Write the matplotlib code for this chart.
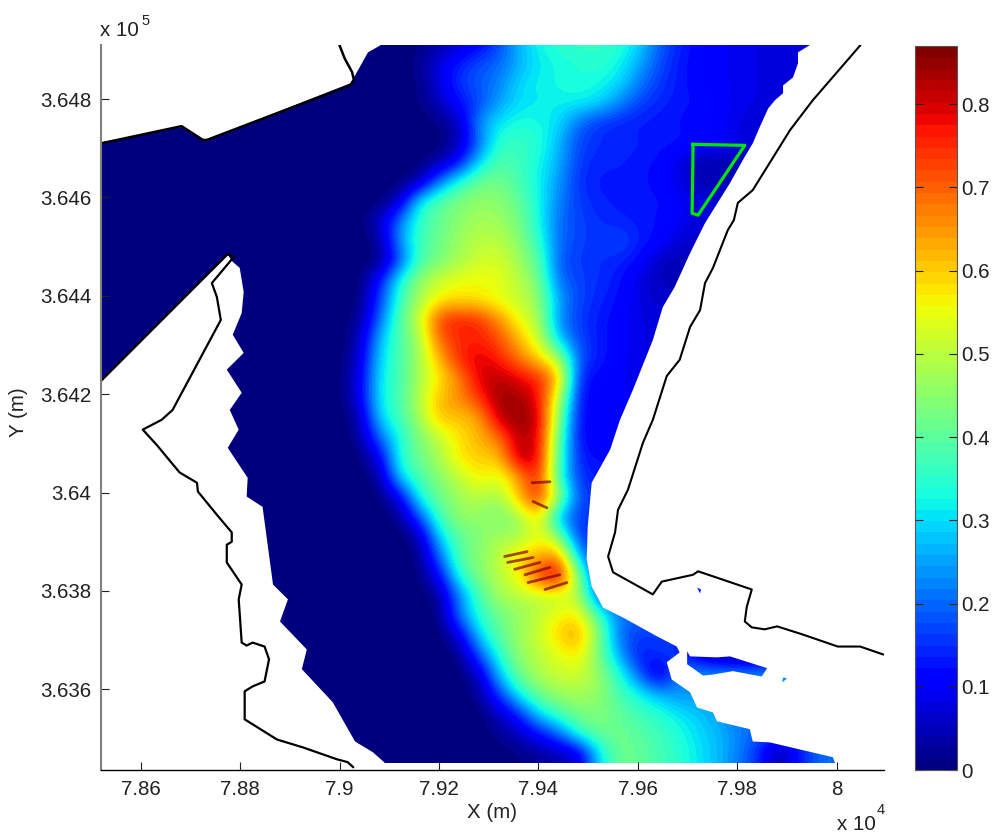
import numpy as np
import matplotlib
matplotlib.use("Agg")
import matplotlib.pyplot as plt
from matplotlib.path import Path
from matplotlib.patches import PathPatch

plt.rcParams['font.family'] = ['Liberation Sans', 'DejaVu Sans']
plt.rcParams['font.size'] = 14.8

# field, hundredths, one row every 40 m from the top
# the columns start at x = 79040, everything west of that is zero
grid_x0 = 79040
grid_y0 = 364910
grid_step = 40
field = [
    [0, 0, 0, 1, 3, 6,10,17,27,33,35,36,36,35,30,20,14,11,10, 9, 8, 8, 7, 7, 7, 7, 7],
    [0, 0, 0, 2, 8,14,18,20,26,31,33,34,35,33,26,18,13,11,10, 9, 8, 8, 7, 7, 7, 7, 7],
    [0, 0, 0, 1, 8,16,19,22,30,32,33,34,33,30,22,16,13,11,10, 9, 8, 8, 7, 7, 7, 7, 7],
    [0, 0, 0, 1, 5,12,17,25,30,31,32,32,30,23,17,14,13,12,11, 9, 8, 7, 7, 7, 7, 7, 7],
    [0, 0, 0, 0, 1, 5,24,31,34,33,30,20,15,14,13,13,12,11,10, 8, 7, 7, 7, 7, 7, 7, 7],
    [0, 0, 0, 0, 0, 4,20,36,36,35,27,17,15,14,14,13,13,12,12, 8, 7, 7, 7, 7, 7, 7, 7],
    [0, 0, 0, 0, 3,11,30,39,37,33,26,16,14,14,13,12, 8, 4, 3, 5, 6, 6, 6, 6, 6, 6, 6],
    [0, 0, 0, 3,22,35,42,43,38,32,24,15,13,13,13,11, 9, 4, 5, 6, 6, 6, 6, 6, 6, 6, 6],
    [0, 0, 5,33,40,44,46,45,41,33,22,16,14,13,13,13,10, 8, 7, 7, 7, 7, 7, 7, 7, 7, 7],
    [0, 6,22,36,41,45,48,47,43,33,20,17,15,14,13,12,10, 7, 7, 7, 7, 7, 7, 7, 7, 7, 7],
    [0, 2,24,37,42,47,50,50,45,36,20,17,15,18,14,12, 7, 6, 6, 6, 6, 6, 6, 6, 6, 6, 6],
    [0, 0,17,38,43,48,52,53,47,40,18,16,15,14,12, 5, 4, 6, 6, 6, 6, 6, 6, 6, 6, 6, 6],
    [0,12,34,46,52,55,56,55,50,43,20,17,15,13, 8, 5, 5, 5, 5, 5, 5, 5, 5, 5, 5, 5, 5],
    [0,16,36,48,57,58,57,54,51,46,25,17,14,12, 8, 6, 6, 6, 6, 6, 6, 6, 6, 6, 6, 6, 6],
    [2,20,40,52,74,77,75,66,55,49,22,16,13,11, 8, 8, 8, 8, 8, 8, 8, 8, 8, 8, 8, 8, 8],
    [4,28,38,47,70,75,76,72,62,52,28,17,13,11, 8, 8, 8, 8, 8, 8, 8, 8, 8, 8, 8, 8, 8],
    [6,30,38,48,62,76,80,76,68,60,50,18,13,11, 8, 8, 8, 8, 8, 8, 8, 8, 8, 8, 8, 8, 8],
    [8,32,37,48,57,66,80,83,79,76,64,13,11,10, 8, 8, 8, 8, 8, 8, 8, 8, 8, 8, 8, 8, 8],
    [8,32,38,50,62,66,74,85,84,78,50,12,10,10,10,10,10,10,10,10,10,10,10,10,10,10,10],
    [3,30,37,47,62,60,63,82,86,82,45,11,10,10,10,10,10,10,10,10,10,10,10,10,10,10,10],
    [2,20,33,44,50,58,62,68,83,80,40,11,10,10,10,10,10,10,10,10,10,10,10,10,10,10,10],
    [0, 8,35,42,48,58,60,60,84,80,38,13,12,12,12,12,12,12,12,12,12,12,12,12,12,12,12],
    [0, 2,30,38,45,50,58,53,64,78,35,15,13,13,13,13,13,13,13,13,13,13,13,13,13,13,13],
    [0, 0, 8,34,42,47,50,47,62,78,48,17,15,15,15,15,15,15,15,15,15,15,15,15,15,15,15],
    [0, 0, 1,18,38,46,46,42,47,60,24,16,15,15,15,15,15,15,15,15,15,15,15,15,15,15,15],
    [0, 0, 0, 3,30,40,44,48,46,56,45,14,15,15,15,15,15,15,15,15,15,15,15,15,15,15,15],
    [0, 0, 0, 1,20,40,45,50,60,62,68,25,14,14,14,14,14,14,14,14,14,14,14,14,14,14,14],
    [0, 0, 0, 0,10,35,44,50,55,76,84,44,13,13,13,13,13,13,13,13,13,13,13,13,13,13,13],
    [0, 0, 0, 0, 2,22,38,48,50,50,50,50,15,15,15,15,15,15,15,15,15,15,15,15,15,15,15],
    [0, 0, 0, 0, 0,22,35,42,46,50,56,58,38,22,20,18,16,16,16,16,16,16,16,16,16,16,16],
    [0, 0, 0, 0, 0, 7,30,40,47,52,60,65,45,20,16,17,15, 6, 3, 1, 0, 0, 0, 0, 0, 0, 0],
    [0, 0, 0, 0, 0, 1,18,35,46,50,54,58,42,26,12,16,15, 7, 2, 0, 0, 3, 3, 3, 3, 3, 3],
    [0, 0, 0, 0, 0, 0, 5,28,42,49,52,52,47,35,20, 4,22,25,25,25,25,25,25,25,25,25,25],
    [0, 0, 0, 0, 0, 0, 2,16,33,42,47,48,46,38,33,27,23,24,24,24,24,24,24,24,24,24,24],
    [0, 0, 0, 0, 0, 0, 0, 5,14,30,38,43,44,41,37,35,31,28,25,20,20,20,20,20,20,20,20],
    [0, 0, 0, 0, 0, 0, 0, 2, 5,12,20,36,42,42,40,37,34,30,27,23,19,14,15,18,18,18,18],
    [0, 0, 0, 0, 0, 0, 0, 0, 1, 2, 4, 6,30,42,41,38,35,31,27,22,15, 2,12,20,22, 8, 5],
]

# dark streaks on the bar, too thin for the grid
streak_value = 0.86
streak_x = [[79332,79377],[79338,79389],[79352,79403],[79373,79423],[79379,79443],[79413,79457],
            [79387,79423],[79389,79417]]
streak_y = [[363870,363880],[363858,363868],[363844,363858],[363833,363848],[363817,363833],
            [363803,363817],[364020,364022],[363982,363969]]

# wet area of the model
water_x = [78520,78682,78723,78733,79021,79031,79057,79083,79946,79922,79922,79912,79892,79892,
           79876,79862,79845,79831,79811,79785,79735,79705,79674,79650,79630,79590,79564,79544,
           79507,79499,79497,79507,79530,79570,79638,79678,79684,79658,79668,79705,79719,79751,
           79759,79825,79831,79866,79992,80002,79107,79067,79031,78986,78924,78934,78880,78896,
           78866,78845,78813,78815,78775,78797,78779,78803,78773,78807,78785,78803,78807,78799,
           78785,78775,78520]
water_y = [364712,364743,364719,364717,364832,364848,364895,364910,364910,364895,364873,364844,
           364828,364812,364798,364781,364743,364710,364676,364629,364548,364487,364418,364377,
           364310,364209,364148,364087,364020,363931,363864,363809,363766,363746,363708,363687,
           363675,363655,363620,363594,363563,363553,363535,363519,363494,363492,363462,363436,
           363436,363472,363494,363574,363641,363681,363738,363783,363813,363971,363992,364030,
           364091,364128,364168,364203,364250,364284,364321,364365,364408,364457,364469,364483,
           364229]
island_x = [79699,79705,79759,79785,79860,79849,79791,79751,79731,79699]
island_y = [363677,363667,363665,363667,363643,363626,363637,363630,363628,363651]
islet_x = [79892,79900,79890]
islet_y = [363624,363622,363614]
dot_x = [79719,79727,79725]
dot_y = [363807,363803,363795]
corner_x = [80051,80077,80093]
corner_y = [363436,363448,363436]

# shoreline
coast_a_x = [78520,78682,78725,78733,79021,79029,79025,79010,79000]
coast_a_y = [364710,364745,364717,364717,364828,364838,364855,364883,364909]
coast_b_x = [78520,78775,78787,78743,78753,78761,78664,78642,78604,78632,78678,78713,78715,78753,
             78783,78783,78773,78773,78803,78797,78803,78813,78825,78849,78858,78849,78825,78809,
             78809,78874,78926,78994,79016,79027]
coast_b_y = [364227,364485,364479,364426,364398,364351,364168,364148,364128,364097,364041,364020,
             364002,363955,363919,363900,363894,363858,363813,363783,363695,363689,363695,363687,
             363661,363616,363606,363596,363539,363498,363482,363458,363452,363442]
coast_c_x = [80047,79952,79906,79831,79801,79793,79781,79751,79735,79725,79705,79684,79658,79630,
             79610,79580,79560,79554,79540,79550,79630,79648,79711,79721,79829,79819,79815,79829,
             79855,79880,79930,80002,80047,80093]
coast_c_y = [364909,364798,364737,364615,364589,364554,364534,364457,364426,364371,364337,364270,
             364237,364148,364101,364006,363965,363919,363870,363838,363793,363819,363833,363840,
             363803,363768,363738,363726,363722,363728,363712,363687,363687,363671]

# study box
box_x = [79711,79815,79721,79709,79711]
box_y = [364708,364706,364564,364568,364708]

x_ticks = [78600,78800,79000,79200,79400,79600,79800,80000]
x_labels = ['7.86','7.88','7.9','7.92','7.94','7.96','7.98','8']
y_ticks = [363600,363800,364000,364200,364400,364600,364800]
y_labels = ['3.636','3.638','3.64','3.642','3.644','3.646','3.648']
cbar_ticks = [0,0.1,0.2,0.3,0.4,0.5,0.6,0.7,0.8]
cbar_labels = ['0','0.1','0.2','0.3','0.4','0.5','0.6','0.7','0.8']

W, H = 996, 834
fig = plt.figure(figsize=(W/100, H/100), dpi=100)
ax = fig.add_axes([101/W, 1-770/H, 783/W, 725/H])

vals = np.array(field) / 100.0
n_west = 13
vals = np.hstack([np.zeros((vals.shape[0], n_west)), vals])
nrow, ncol = vals.shape
x0 = grid_x0 - n_west*grid_step
half = grid_step / 2
extent = [x0-half, x0+(ncol-1)*grid_step+half,
          grid_y0-(nrow-1)*grid_step-half, grid_y0+half]
jet64 = plt.get_cmap('jet', 64)
im = ax.imshow(vals, cmap=jet64, vmin=0, vmax=0.87, extent=extent,
               interpolation='bicubic', interpolation_stage='data', aspect='auto')

# white land: clip the field to the wet polygons
verts = []
codes = []
for px, py in [(water_x, water_y), (island_x, island_y), (islet_x, islet_y),
               (dot_x, dot_y), (corner_x, corner_y)]:
    pts = list(zip(px, py))
    verts += pts + [pts[0]]
    codes += [Path.MOVETO] + [Path.LINETO]*(len(pts)-1) + [Path.CLOSEPOLY]
clip = PathPatch(Path(verts, codes), transform=ax.transData, fc='none', ec='none')
ax.add_patch(clip)
im.set_clip_path(clip)

for sx, sy in zip(streak_x, streak_y):
    ax.plot(sx, sy, color=jet64(im.norm(streak_value)), lw=2.0, solid_capstyle='round', alpha=0.7)

ax.plot(coast_a_x, coast_a_y, color='k', lw=1.8)
ax.plot(coast_b_x, coast_b_y, color='k', lw=1.6)
ax.plot(coast_c_x, coast_c_y, color='k', lw=1.5)
ax.plot(box_x, box_y, color='#00e600', lw=2.3)

ax.set_xlim(78520, 80095)
ax.set_ylim(363436, 364910)
ax.set_xticks(x_ticks)
ax.set_xticklabels(x_labels)
ax.set_yticks(y_ticks)
ax.set_yticklabels(y_labels)
ax.tick_params(direction='in', length=6, width=0.8, pad=7, colors='#222222')
ax.spines['top'].set_visible(False)
ax.spines['right'].set_visible(False)
ax.spines['left'].set_color('#808080')
ax.spines['left'].set_linewidth(1.5)
ax.spines['bottom'].set_linewidth(1.0)

fig.text(492/W, 1-812/H, 'X (m)', ha='center', va='center', color='#222222')
fig.text(18/W, 1-412/H, 'Y (m)', ha='center', va='center', rotation=90, color='#222222')
fig.text(100/W, 1-30/H, 'x 10', ha='left', va='center', color='#222222')
fig.text(141/W, 1-21/H, '5', ha='left', va='center', fontsize=10.5, color='#222222')
fig.text(837/W, 1-825/H, 'x 10', ha='left', va='center', color='#222222')
fig.text(877/W, 1-810/H, '4', ha='left', va='center', fontsize=10.5, color='#222222')

cax = fig.add_axes([915/W, 1-770/H, 42/W, 724/H])
cb = fig.colorbar(im, cax=cax, ticks=cbar_ticks)
cb.set_ticklabels(cbar_labels)
cax.tick_params(direction='in', length=6, width=0.8, left=True, right=True, pad=3, colors='#222222')
cb.outline.set_edgecolor('#555555')

fig.savefig('out.png', dpi=100)
